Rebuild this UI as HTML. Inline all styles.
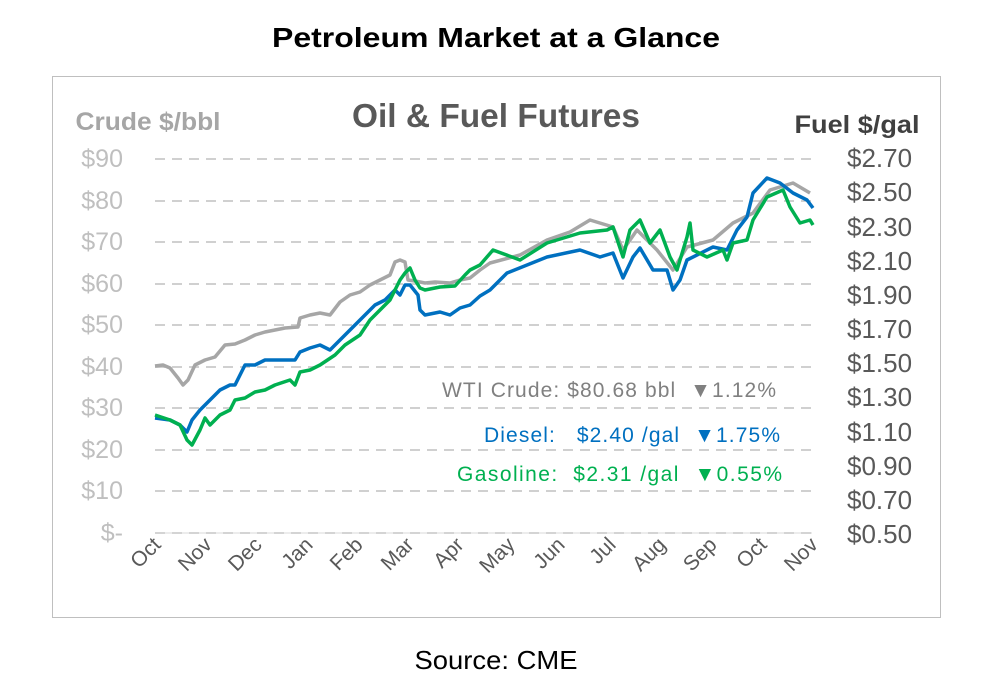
<!DOCTYPE html>
<html><head><style>
body{margin:0;width:991px;height:690px;background:#fff;overflow:hidden;font-family:"Liberation Sans",sans-serif}
</style></head><body>
<svg width="991" height="690" xmlns="http://www.w3.org/2000/svg" font-family="Liberation Sans, sans-serif">
<text x="496" y="47" text-anchor="middle" font-size="28" font-weight="bold" fill="#000" textLength="448" lengthAdjust="spacingAndGlyphs">Petroleum Market at a Glance</text>
<rect x="52.5" y="76.5" width="888" height="541" fill="#fff" stroke="#bfbfbf" stroke-width="1"/>
<text x="496" y="127" text-anchor="middle" font-size="33" font-weight="bold" fill="#595959" textLength="288" lengthAdjust="spacingAndGlyphs">Oil &amp; Fuel Futures</text>
<text x="148" y="130" text-anchor="middle" font-size="25" font-weight="bold" fill="#a6a6a6" textLength="145" lengthAdjust="spacingAndGlyphs">Crude $/bbl</text>
<text x="857" y="133" text-anchor="middle" font-size="25" font-weight="bold" fill="#404040" textLength="125" lengthAdjust="spacingAndGlyphs">Fuel $/gal</text>
<g stroke="#d0d0d0" stroke-width="2" stroke-dasharray="10,7">
<line x1="155" x2="812" y1="159" y2="159"/><line x1="155" x2="812" y1="201" y2="201"/>
<line x1="155" x2="812" y1="242" y2="242"/><line x1="155" x2="812" y1="284" y2="284"/>
<line x1="155" x2="812" y1="325" y2="325"/><line x1="155" x2="812" y1="367" y2="367"/>
<line x1="155" x2="812" y1="408" y2="408"/><line x1="155" x2="812" y1="450" y2="450"/>
<line x1="155" x2="812" y1="491" y2="491"/><line x1="155" x2="812" y1="533" y2="533"/>
</g>
<g font-size="25" fill="#bfbfbf" text-anchor="end">
<text x="123" y="167">$90</text><text x="123" y="209">$80</text><text x="123" y="250">$70</text>
<text x="123" y="292">$60</text><text x="123" y="333">$50</text><text x="123" y="375">$40</text>
<text x="123" y="416">$30</text><text x="123" y="458">$20</text><text x="123" y="499">$10</text>
<text x="123" y="541">$-</text>
</g>
<g font-size="26" fill="#595959">
<text x="847" y="167">$2.70</text><text x="847" y="201">$2.50</text><text x="847" y="236">$2.30</text>
<text x="847" y="270">$2.10</text><text x="847" y="304">$1.90</text><text x="847" y="338">$1.70</text>
<text x="847" y="372">$1.50</text><text x="847" y="406">$1.30</text><text x="847" y="441">$1.10</text>
<text x="847" y="475">$0.90</text><text x="847" y="509">$0.70</text><text x="847" y="543">$0.50</text>
</g>
<line x1="155" x2="812" y1="533" y2="533" stroke="#d9d9d9" stroke-width="1"/>
<g font-size="21" fill="#595959" text-anchor="end">
<text transform="translate(162,546) rotate(-45)">Oct</text>
<text transform="translate(213,546) rotate(-45)">Nov</text>
<text transform="translate(263,546) rotate(-45)">Dec</text>
<text transform="translate(314,546) rotate(-45)">Jan</text>
<text transform="translate(364,546) rotate(-45)">Feb</text>
<text transform="translate(415,546) rotate(-45)">Mar</text>
<text transform="translate(465,546) rotate(-45)">Apr</text>
<text transform="translate(516,546) rotate(-45)">May</text>
<text transform="translate(566,546) rotate(-45)">Jun</text>
<text transform="translate(617,546) rotate(-45)">Jul</text>
<text transform="translate(667,546) rotate(-45)">Aug</text>
<text transform="translate(718,546) rotate(-45)">Sep</text>
<text transform="translate(768,546) rotate(-45)">Oct</text>
<text transform="translate(819,546) rotate(-45)">Nov</text>
</g>
<g fill="none" stroke-width="3.5" stroke-linejoin="round">
<polyline stroke="#a6a6a6" points="155,366 163,365 170,368 178,378 183,385 188,380 195,365 205,360 215,357 225,345 235,344 245,340 255,335 265,332 275,330 285,328 298,327 300,318 310,315 320,313 330,315 340,302 350,295 360,292 370,285 380,280 390,275 395,262 400,260 405,262 408,280 415,281 425,283 435,282 450,283 460,280 470,278 480,270 490,263 520,255 547,240 570,232 590,220 613,227 623,250 637,230 657,250 673,270 687,247 713,240 733,223 753,213 770,190 793,183 810,193"/>
<polyline stroke="#0070c0" points="155,418 170,420 180,425 187,432 192,420 200,410 210,400 220,390 230,385 235,385 245,365 255,365 265,360 280,360 295,360 300,352 310,348 320,345 330,350 340,340 350,330 365,315 375,305 385,300 395,290 400,295 405,285 410,285 418,295 420,310 425,315 440,312 450,315 460,308 470,305 480,296 490,290 507,273 547,257 580,250 600,257 613,253 623,278 633,257 640,248 653,270 667,270 673,290 680,280 687,260 713,247 727,250 737,230 747,217 753,193 767,178 780,183 793,193 807,200 813,208"/>
<polyline stroke="#00b050" points="155,415 170,420 180,425 187,440 192,445 200,430 205,418 210,425 220,415 230,410 235,400 245,398 255,392 265,390 275,385 290,380 295,385 300,372 310,370 320,365 335,355 345,345 360,335 370,320 380,310 390,300 395,290 400,280 405,273 410,268 415,280 420,288 425,290 440,287 455,286 465,275 470,270 480,265 493,250 520,260 547,243 580,233 607,230 613,227 623,257 630,230 640,220 650,243 660,230 670,257 677,270 687,237 690,223 693,250 707,257 723,250 727,260 733,243 747,240 753,220 767,197 783,190 790,207 800,223 810,220 813,225"/>
</g>
<g font-size="21">
<text x="442" y="397" fill="#808080" textLength="334" xml:space="preserve">WTI Crude: $80.68 bbl  ▼1.12%</text>
<text x="484" y="442" fill="#0070c0" textLength="296" xml:space="preserve">Diesel:   $2.40 /gal  ▼1.75%</text>
<text x="457" y="481" fill="#00b050" textLength="325" xml:space="preserve">Gasoline:  $2.31 /gal  ▼0.55%</text>
</g>
<text x="496" y="669" text-anchor="middle" font-size="26" fill="#000" textLength="163" lengthAdjust="spacingAndGlyphs">Source: CME</text>
</svg>
</body></html>
